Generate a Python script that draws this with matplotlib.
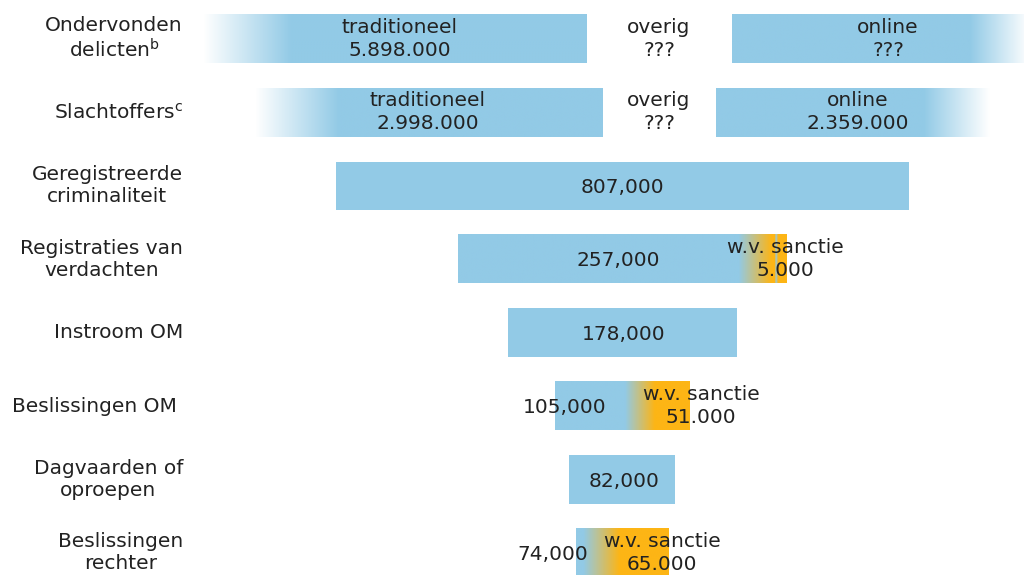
import numpy as np
import matplotlib.pyplot as plt
from matplotlib.colors import LinearSegmentedColormap

# =========================
# DATA
# =========================
stages = [
    "Ondervonden\ndelicten$^\\mathregular{b}$",
    "Slachtoffers$^\\mathregular{c}$",
    "Geregistreerde\ncriminaliteit",
    "Registraties van\nverdachten",
    "Instroom OM",
    "Beslissingen OM ",
    "Dagvaarden of\noproepen",
    "Beslissingen\nrechter",
]

# top two rows: split in traditioneel / overig / online
split_parts = ["traditioneel", "overig", "online"]
split_values = [
    ["5.898.000", "???", "???"],
    ["2.998.000", "???", "2.359.000"],
]

# funnel rows
funnel_counts = ["807,000", "257,000", "178,000", "105,000", "82,000", "74,000"]
funnel_length = [573, 329, 229, 135, 106, 93]   # drawn (schematic) length
sanctie_values = [None, "5.000", None, "51.000", None, "65.000"]

# =========================
# STYLE / LAYOUT
# =========================
BLUE = "#92cae6"
ORANGE = "#fdb515"
TEXT = "#222222"
FS = 14.5
CENTER = 622
BAR_H = 0.66

# split bars: (left, right, gradient kind, stop)
split_bars = [
    [(203, 587, "fade_in", 0.23), (732, 1030, "fade_out", 0.80)],
    [(255, 603, "fade_in", 0.24), (716, 990, "fade_out", 0.76)],
]
split_text_x = [[400, 659, 888], [428, 659, 858]]

# orange gradient stops (fraction of bar) for rows with sanctie
sanctie_stops = {
    1: [(0, BLUE), (0.855, BLUE), (0.955, ORANGE), (0.965, ORANGE),
        (0.968, BLUE), (0.975, ORANGE), (1, ORANGE)],
    3: [(0, BLUE), (0.52, BLUE), (0.74, ORANGE), (1, ORANGE)],
    5: [(0, BLUE), (0.08, BLUE), (0.47, ORANGE), (1, ORANGE)],
}
count_text_x = [622, 618, 624, 565, 624, 553]
sanctie_text_x = [None, 785, None, 701, None, 662]


def gradient_bar(ax, x0, x1, y, stops):
    cmap = LinearSegmentedColormap.from_list("g", stops)
    ax.imshow(np.linspace(0, 1, 512)[None, :], cmap=cmap, aspect="auto",
              extent=[x0, x1, y + BAR_H / 2, y - BAR_H / 2],
              interpolation="bilinear", zorder=1)


fig = plt.figure(figsize=(10.24, 5.75), dpi=100)
ax = fig.add_axes([0, 0, 1, 1])

# stage labels
for i, lab in enumerate(stages):
    ax.text(183, i, lab, ha="right", va="center", multialignment="center",
            fontsize=FS, color=TEXT)

# split rows
for r in range(2):
    for x0, x1, kind, f in split_bars[r]:
        if kind == "fade_in":
            stops = [(0, "white"), (f, BLUE), (1, BLUE)]
        else:
            stops = [(0, BLUE), (f, BLUE), (1, "white")]
        gradient_bar(ax, x0, x1, r, stops)
    for k, part in enumerate(split_parts):
        ax.text(split_text_x[r][k], r, f"{part}\n{split_values[r][k]}",
                ha="center", va="center", fontsize=FS, color=TEXT,
                linespacing=1.25, zorder=3)

# funnel rows
for j, (cnt, length) in enumerate(zip(funnel_counts, funnel_length)):
    y = j + 2
    x0 = CENTER - length / 2
    if j in sanctie_stops:
        gradient_bar(ax, x0, x0 + length, y, sanctie_stops[j])
    else:
        ax.barh(y, length, left=x0, height=BAR_H, color=BLUE, zorder=1)
    ax.text(count_text_x[j], y + 0.02, cnt, ha="center", va="center",
            fontsize=FS, color=TEXT, zorder=3)
    if sanctie_values[j]:
        ax.text(sanctie_text_x[j], y, f"w.v. sanctie\n{sanctie_values[j]}",
                ha="center", va="center", fontsize=FS, color=TEXT,
                linespacing=1.25, zorder=3)

ax.set_xlim(0, 1024)
ax.set_ylim(7.3, -0.53)
ax.axis("off")

plt.savefig("out.png", dpi=100)
